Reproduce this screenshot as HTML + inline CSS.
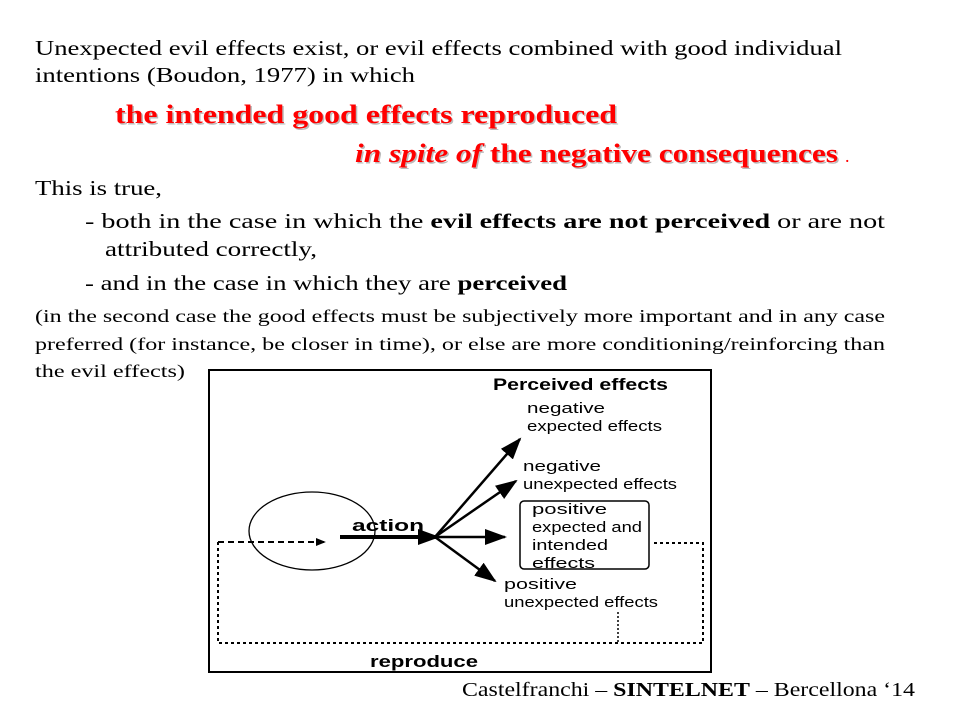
<!DOCTYPE html>
<html><head><style>body{margin:0;background:#fff}svg{display:block}</style></head><body>
<svg width="960" height="720" viewBox="0 0 960 720" xmlns="http://www.w3.org/2000/svg" font-family="Liberation Serif, serif">
<defs>
<marker id="ah" markerWidth="10" markerHeight="8" refX="9" refY="4" orient="auto" markerUnits="userSpaceOnUse"><path d="M0,0 L18,4 L0,8 z" transform="scale(0.55,1)" fill="#000"/></marker>
<marker id="big" markerWidth="22" markerHeight="16" refX="20" refY="8" orient="auto" markerUnits="userSpaceOnUse"><path d="M0,0 L22,8 L0,16 z" fill="#000"/></marker>
</defs>
<g font-size="21" fill="#000">
<text x="35" y="55" textLength="807" lengthAdjust="spacingAndGlyphs">Unexpected evil effects exist, or evil effects combined with good individual</text>
<text x="35" y="82" textLength="380" lengthAdjust="spacingAndGlyphs">intentions (Boudon, 1977) in which</text>
<text x="35" y="195" textLength="127" lengthAdjust="spacingAndGlyphs">This is true,</text>
<text x="85" y="228" textLength="800" lengthAdjust="spacingAndGlyphs">- both in the case in which the <tspan font-weight="bold">evil effects are not perceived</tspan> or are not</text>
<text x="105" y="256" textLength="212" lengthAdjust="spacingAndGlyphs">attributed correctly,</text>
<text x="85" y="290" textLength="482" lengthAdjust="spacingAndGlyphs">- and in the case in which they are <tspan font-weight="bold">perceived</tspan></text>
</g>
<g font-size="18">
<text x="35" y="322" textLength="850" lengthAdjust="spacingAndGlyphs">(in the second case the good effects must be subjectively more important and in any case</text>
<text x="35" y="350" textLength="850" lengthAdjust="spacingAndGlyphs">preferred (for instance, be closer in time), or else are more conditioning/reinforcing than</text>
<text x="35" y="377" textLength="150" lengthAdjust="spacingAndGlyphs">the evil effects)</text>
</g>
<g font-size="26" font-weight="bold" fill="#bbb" transform="translate(1.5,1.5)">
<text x="115" y="123" textLength="502" lengthAdjust="spacingAndGlyphs">the intended good effects reproduced</text>
<text x="355" y="162" textLength="483" lengthAdjust="spacingAndGlyphs"><tspan font-style="italic">in spite of</tspan> the negative consequences</text>
</g>
<g font-size="26" font-weight="bold" fill="#f00">
<text x="115" y="123" textLength="502" lengthAdjust="spacingAndGlyphs">the intended good effects reproduced</text>
<text x="355" y="162" textLength="483" lengthAdjust="spacingAndGlyphs"><tspan font-style="italic">in spite of</tspan> the negative consequences</text>
<text x="845" y="162" font-size="18" font-weight="normal">.</text>
</g>
<text x="462" y="696" font-size="20" textLength="453" lengthAdjust="spacingAndGlyphs">Castelfranchi – <tspan font-weight="bold">SINTELNET</tspan> – Bercellona ‘14</text>

<!-- diagram -->
<rect x="209" y="370" width="502" height="302" fill="none" stroke="#000" stroke-width="2"/>
<ellipse cx="312" cy="531" rx="63" ry="39" fill="none" stroke="#000" stroke-width="1.3"/>
<path d="M218,542 L218,643 L703,643 L703,543 L653,543" fill="none" stroke="#000" stroke-width="2" stroke-dasharray="3,3"/>
<path d="M618,612 L618,643" fill="none" stroke="#000" stroke-width="1.5" stroke-dasharray="2,2"/>
<path d="M218,542 L325,542" fill="none" stroke="#000" stroke-width="2" stroke-dasharray="6,4" marker-end="url(#ah)"/>
<line x1="340" y1="537" x2="438" y2="537" stroke="#000" stroke-width="4" marker-end="url(#big)"/>
<g stroke="#000" stroke-width="2.5">
<line x1="435" y1="537" x2="520" y2="439" marker-end="url(#big)"/>
<line x1="435" y1="537" x2="516" y2="481" marker-end="url(#big)"/>
<line x1="435" y1="537" x2="505" y2="537" marker-end="url(#big)"/>
<line x1="435" y1="537" x2="495" y2="581" marker-end="url(#big)"/>
</g>
<rect x="520" y="501" width="129" height="68" rx="4" fill="none" stroke="#000" stroke-width="1.5"/>
<g font-family="Liberation Sans, sans-serif" font-size="15" fill="#000">
<text x="493" y="390" font-weight="bold" font-size="17" textLength="175" lengthAdjust="spacingAndGlyphs">Perceived effects</text>
<text x="527" y="413" textLength="78" lengthAdjust="spacingAndGlyphs">negative</text>
<text x="527" y="431" textLength="135" lengthAdjust="spacingAndGlyphs">expected effects</text>
<text x="523" y="471" textLength="78" lengthAdjust="spacingAndGlyphs">negative</text>
<text x="523" y="489" textLength="154" lengthAdjust="spacingAndGlyphs">unexpected effects</text>
<text x="532" y="514" textLength="75" lengthAdjust="spacingAndGlyphs">positive</text>
<text x="532" y="532" textLength="110" lengthAdjust="spacingAndGlyphs">expected and</text>
<text x="532" y="550" textLength="76" lengthAdjust="spacingAndGlyphs">intended</text>
<text x="532" y="568" textLength="63" lengthAdjust="spacingAndGlyphs">effects</text>
<text x="504" y="589" textLength="73" lengthAdjust="spacingAndGlyphs">positive</text>
<text x="504" y="607" textLength="154" lengthAdjust="spacingAndGlyphs">unexpected effects</text>
<text x="352" y="531" font-weight="bold" font-size="17" textLength="72" lengthAdjust="spacingAndGlyphs">action</text>
<text x="370" y="667" font-weight="bold" font-size="17" textLength="108" lengthAdjust="spacingAndGlyphs">reproduce</text>
</g>
</svg>
</body></html>
